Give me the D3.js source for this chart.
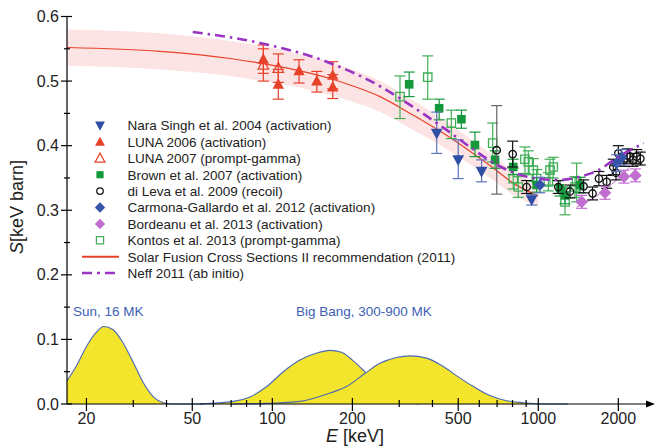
<!DOCTYPE html>
<html>
<head>
<meta charset="utf-8">
<script src="https://cdn.jsdelivr.net/npm/d3@7"></script>
<style>
body { margin: 0; background: #fff; }
svg { display: block; font-family: "Liberation Sans", Arial, Helvetica, sans-serif; }
</style>
</head>
<body>
<script>
var width = 655;
var height = 448;

// axis ticks
var yTicks = [0, 0.1, 0.2, 0.3, 0.4, 0.5, 0.6];
var yMinor = [0.05, 0.15, 0.25, 0.35, 0.45, 0.55];
var xTicks = [20, 50, 100, 200, 500, 1000, 2000];
var xMinor = [30, 40, 60, 70, 80, 90, 300, 400, 600, 700, 800, 900];

// measurements: [E keV, S, S low, S high]
var naraSingh = [[415, 0.419, 0.388, 0.452], [500, 0.378, 0.349, 0.409], [612, 0.360, 0.344, 0.378], [944, 0.316, 0.308, 0.324]];
var luna2006 = [[92.5, 0.534, 0.512, 0.556], [105.3, 0.495, 0.472, 0.518], [126, 0.516, 0.497, 0.533],
                [147, 0.500, 0.483, 0.515], [168.7, 0.509, 0.488, 0.530], [168.7, 0.491, 0.473, 0.510]];
var luna2007 = [[92.5, 0.525, 0.500, 0.550], [105.3, 0.520, 0.498, 0.542]];
var brown2007 = [[327, 0.495, 0.476, 0.514], [424, 0.458, 0.440, 0.472], [514, 0.441, 0.427, 0.455],
                 [578, 0.401, 0.383, 0.421], [688, 0.378, 0.365, 0.392], [805, 0.367, 0.355, 0.379],
                 [986, 0.339, 0.328, 0.350], [1207, 0.334, 0.322, 0.346], [1260, 0.323, 0.310, 0.336],
                 [1435, 0.339, 0.327, 0.351]];
var diLeva = [[801, 0.387, 0.367, 0.407], [904, 0.336, 0.326, 0.346], [1189, 0.336, 0.326, 0.346],
              [1316, 0.329, 0.319, 0.339], [1480, 0.337, 0.327, 0.347], [1600, 0.326, 0.316, 0.336],
              [1690, 0.349, 0.338, 0.360], [1808, 0.344, 0.334, 0.354], [1914, 0.367, 0.355, 0.379],
              [1960, 0.358, 0.347, 0.369], [2000, 0.388, 0.376, 0.400], [2100, 0.378, 0.368, 0.388],
              [2160, 0.385, 0.375, 0.395], [2212, 0.383, 0.372, 0.394], [2270, 0.378, 0.368, 0.388],
              [2344, 0.383, 0.372, 0.394], [2420, 0.380, 0.370, 0.390]];
var diLevaWide = [[698, 0.393, 0.325, 0.462]];
var carmona2012 = [[1014, 0.339, 0.327, 0.351], [1972, 0.373, 0.360, 0.386], [2060, 0.382, 0.370, 0.394]];
var bordeanu2013 = [[1456, 0.313, 0.303, 0.323], [1782, 0.327, 0.317, 0.337], [2100, 0.352, 0.342, 0.362], [2318, 0.354, 0.344, 0.364]];
var kontos2013 = [[302, 0.476, 0.442, 0.508], [384, 0.506, 0.472, 0.539], [471, 0.435, 0.411, 0.455],
                  [674, 0.404, 0.375, 0.435], [891, 0.379, 0.357, 0.398], [917, 0.375, 0.355, 0.392],
                  [958, 0.362, 0.345, 0.380], [805, 0.349, 0.333, 0.365], [841, 0.336, 0.320, 0.352],
                  [986, 0.349, 0.335, 0.363], [1107, 0.362, 0.339, 0.379], [1138, 0.367, 0.350, 0.382],
                  [1091, 0.344, 0.330, 0.358], [1260, 0.313, 0.293, 0.334], [1394, 0.344, 0.313, 0.373],
                  [1375, 0.336, 0.320, 0.352]];

// Solar Fusion II recommendation and its band
var sfEnergy = [16.9, 37.8, 69.3, 92.3, 123.5, 164.8, 196, 254, 339, 452, 555, 670, 805, 1000];
var sfS      = [0.552, 0.546, 0.535, 0.527, 0.517, 0.504, 0.494, 0.476, 0.447, 0.416, 0.391, 0.367, 0.342, 0.322];
var sfUpper  = [0.580, 0.574, 0.562, 0.554, 0.543, 0.530, 0.519, 0.500, 0.470, 0.437, 0.411, 0.386, 0.360, 0.339];
var sfLower  = [0.524, 0.518, 0.508, 0.500, 0.491, 0.478, 0.469, 0.452, 0.424, 0.395, 0.371, 0.348, 0.324, 0.305];

// Neff 2011 ab initio
var neffEnergy = [50.2, 89.9, 160, 254, 338, 453, 553, 674, 800, 986, 1200, 1434, 1700, 1908, 2490];
var neffS      = [0.576, 0.559, 0.530, 0.492, 0.460, 0.424, 0.398, 0.374, 0.359, 0.349, 0.347, 0.352, 0.363, 0.377, 0.404];

// thin fit through the Bordeanu points
var bordFitEnergy = [1394, 1600, 1808, 2150, 2475];
var bordFitS      = [0.305, 0.318, 0.334, 0.362, 0.393];

// Gamow peaks (arbitrary units on the S axis)
var sunEnergy = [16.9, 18.4, 20.0, 21.9, 23.2, 25.2, 27.5, 30.1, 32.8, 35.7, 38.9, 42.4, 55];
var sunPeak   = [0.036, 0.060, 0.089, 0.112, 0.120, 0.115, 0.094, 0.063, 0.032, 0.011, 0.002, 0, 0];
var bb1Energy = [53.5, 71.4, 82.4, 95.3, 110, 127, 147, 165, 182, 200, 224, 240, 261, 293, 329, 358];
var bb1Peak   = [0, 0.004, 0.011, 0.027, 0.050, 0.068, 0.079, 0.083, 0.080, 0.068, 0.049, 0.037, 0.023, 0.009, 0.002, 0];
var bb2Energy = [70, 95.3, 127, 165, 190, 224, 254, 293, 329, 380, 439, 500, 570, 657, 760, 877, 1076, 1293];
var bb2Peak   = [0, 0.001, 0.004, 0.017, 0.027, 0.048, 0.063, 0.072, 0.0745, 0.071, 0.058, 0.042, 0.027, 0.013, 0.005, 0.002, 0, 0];

var svg = d3.select("body").append("svg")
    .attr("width", width)
    .attr("height", height);

var x = d3.scaleLog().domain([16.9, 2700]).range([67, 653]);
var y = d3.scaleLinear().domain([0, 0.6]).range([404, 16.5]);

function zip(xs, ys) { return xs.map(function(e, i) { return [e, ys[i]]; }); }

var line = d3.line()
    .x(function(d) { return x(d[0]); })
    .y(function(d) { return y(d[1]); })
    .curve(d3.curveMonotoneX);

// band
var band = d3.area()
    .x(function(d) { return x(d[0]); })
    .y0(function(d) { return y(d[1]); })
    .y1(function(d) { return y(d[2]); })
    .curve(d3.curveMonotoneX);
svg.append("path")
    .datum(sfEnergy.map(function(e, i) { return [e, sfLower[i], sfUpper[i]]; }))
    .attr("d", band)
    .attr("fill", "#fde4e4");

// gamow peaks
var peak = d3.area()
    .x(function(d) { return x(d[0]); })
    .y0(y(0))
    .y1(function(d) { return y(d[1]); })
    .curve(d3.curveMonotoneX);
[[sunEnergy, sunPeak], [bb1Energy, bb1Peak], [bb2Energy, bb2Peak]].forEach(function(p) {
  var pts = zip(p[0], p[1]);
  svg.append("path").datum(pts).attr("d", peak).attr("fill", "#f3e42c");
  svg.append("path").datum(pts).attr("d", line)
      .attr("fill", "none").attr("stroke", "#4a68b5").attr("stroke-width", 1.1);
});

// marker shapes
function shape(type, s) {
  if (type == "up") return "M0," + (-s) + "L" + (s * 0.95) + "," + (s * 0.75) + "L" + (-s * 0.95) + "," + (s * 0.75) + "Z";
  if (type == "down") return "M0," + s + "L" + (s * 0.95) + "," + (-s * 0.75) + "L" + (-s * 0.95) + "," + (-s * 0.75) + "Z";
  if (type == "square") return "M" + (-s) + "," + (-s) + "h" + (2 * s) + "v" + (2 * s) + "h" + (-2 * s) + "Z";
  if (type == "diamond") return "M0," + (-s) + "L" + s + ",0L0," + s + "L" + (-s) + ",0Z";
  return "M" + (-s) + ",0a" + s + "," + s + " 0 1,0 " + (2 * s) + ",0a" + s + "," + s + " 0 1,0 " + (-2 * s) + ",0";
}

var RED = "#e8412a", BLUE = "#2f4fa6", GREEN = "#14983c", LGREEN = "#3fae55", PURPLE = "#c06ed0";

var series = {
  nara:   { label: "Nara Singh et al. 2004 (activation)", data: naraSingh, type: "down", s: 6.2, fill: BLUE, stroke: "none", bar: "#5a74bb" },
  luna6:  { label: "LUNA 2006 (activation)", data: luna2006, type: "up", s: 6, fill: RED, stroke: "none", bar: RED },
  luna7:  { label: "LUNA 2007 (prompt-gamma)", data: luna2007, type: "up", s: 5.5, fill: "none", stroke: RED, bar: RED },
  brown:  { label: "Brown et al. 2007 (activation)", data: brown2007, type: "square", s: 4.3, fill: GREEN, stroke: "none", bar: GREEN },
  dileva: { label: "di Leva et al. 2009 (recoil)", data: diLeva, type: "circle", s: 3.7, fill: "none", stroke: "#111", bar: "#111" },
  carm:   { label: "Carmona-Gallardo et al. 2012 (activation)", data: carmona2012, type: "diamond", s: 5.8, fill: "#3555aa", stroke: "none", bar: "#5a74bb" },
  bord:   { label: "Bordeanu et al. 2013 (activation)", data: bordeanu2013, type: "diamond", s: 6.3, fill: PURPLE, stroke: "none", bar: PURPLE },
  kontos: { label: "Kontos et al. 2013 (prompt-gamma)", data: kontos2013, type: "square", s: 4.2, fill: "none", stroke: LGREEN, bar: LGREEN }
};

// curves
svg.append("path").datum(zip(sfEnergy, sfS)).attr("d", line)
    .attr("fill", "none").attr("stroke", RED).attr("stroke-width", 1.2);
svg.append("path").datum(zip(bordFitEnergy, bordFitS)).attr("d", line)
    .attr("fill", "none").attr("stroke", PURPLE).attr("stroke-width", 1);

function drawSeries(cfg, data, barColor) {
  var g = svg.append("g");
  var pts = g.selectAll("g").data(data).enter().append("g");
  pts.append("line")
      .attr("x1", function(d) { return x(d[0]); }).attr("x2", function(d) { return x(d[0]); })
      .attr("y1", function(d) { return y(d[2]); }).attr("y2", function(d) { return y(d[3]); })
      .attr("stroke", barColor).attr("stroke-width", 1.2);
  [2, 3].forEach(function(k) {
    pts.append("line")
        .attr("x1", function(d) { return x(d[0]) - 5.5; }).attr("x2", function(d) { return x(d[0]) + 5.5; })
        .attr("y1", function(d) { return y(d[k]); }).attr("y2", function(d) { return y(d[k]); })
        .attr("stroke", barColor).attr("stroke-width", 1.2);
  });
  pts.append("path")
      .attr("transform", function(d) { return "translate(" + x(d[0]) + "," + y(d[1]) + ")"; })
      .attr("d", shape(cfg.type, cfg.s))
      .attr("fill", cfg.fill)
      .attr("stroke", cfg.stroke)
      .attr("stroke-width", 1.3);
}

drawSeries(series.kontos, series.kontos.data, series.kontos.bar);
drawSeries(series.brown, series.brown.data, series.brown.bar);
drawSeries(series.nara, series.nara.data, series.nara.bar);
drawSeries(series.luna7, series.luna7.data, series.luna7.bar);
drawSeries(series.luna6, series.luna6.data, series.luna6.bar);
drawSeries(series.dileva, diLevaWide, "#666");
drawSeries(series.dileva, series.dileva.data, series.dileva.bar);
drawSeries(series.carm, series.carm.data, series.carm.bar);
drawSeries(series.bord, series.bord.data, series.bord.bar);

svg.append("path").datum(zip(neffEnergy, neffS)).attr("d", line)
    .attr("fill", "none").attr("stroke", "#9a34c2").attr("stroke-width", 2.6)
    .attr("stroke-dasharray", "10,5,2.5,5");

// axes
var axes = svg.append("g").attr("stroke", "#000").attr("stroke-width", 1.2);
axes.append("line").attr("x1", 67).attr("x2", 67).attr("y1", y(0.6)).attr("y2", y(0));
axes.append("line").attr("x1", 67).attr("x2", 650).attr("y1", y(0)).attr("y2", y(0));
svg.append("path").attr("d", "M655," + y(0) + "L646," + (y(0) - 3.5) + "L646," + (y(0) + 3.5) + "Z").attr("fill", "#000");

axes.selectAll(".ym").data(yTicks).enter().append("line")
    .attr("x1", 61).attr("x2", 72).attr("y1", y).attr("y2", y);
axes.selectAll(".yn").data(yMinor).enter().append("line")
    .attr("x1", 64).attr("x2", 70).attr("y1", y).attr("y2", y);
axes.selectAll(".xm").data(xTicks).enter().append("line")
    .attr("x1", x).attr("x2", x).attr("y1", y(0) - 6).attr("y2", y(0) + 7);
axes.selectAll(".xn").data(xMinor).enter().append("line")
    .attr("x1", x).attr("x2", x).attr("y1", y(0) - 4).attr("y2", y(0) + 3);

svg.selectAll(".ylab").data(yTicks).enter().append("text")
    .attr("x", 59).attr("y", function(d) { return y(d) + 5.5; })
    .attr("text-anchor", "end").attr("font-size", 16).attr("fill", "#222")
    .text(d3.format(".1f"));
svg.selectAll(".xlab").data(xTicks).enter().append("text")
    .attr("x", x).attr("y", 424)
    .attr("text-anchor", "middle").attr("font-size", 16).attr("fill", "#222")
    .text(function(d) { return d; });

var xt = svg.append("text").attr("x", 355).attr("y", 442).attr("text-anchor", "middle")
    .attr("font-size", 18).attr("fill", "#222");
xt.append("tspan").attr("font-style", "italic").text("E");
xt.append("tspan").text(" [keV]");

var yt = svg.append("text").attr("transform", "translate(23,207) rotate(-90)").attr("text-anchor", "middle")
    .attr("font-size", 18).attr("fill", "#222");
yt.append("tspan").attr("font-style", "italic").text("S");
yt.append("tspan").text("[keV barn]");

// gamow annotations
svg.append("text").attr("x", 73).attr("y", 316).attr("font-size", 13.5).attr("fill", "#3d5fb5").text("Sun, 16 MK");
svg.append("text").attr("x", 296).attr("y", 316).attr("font-size", 13.5).attr("fill", "#3d5fb5").text("Big Bang, 300-900 MK");

// legend
var legendOrder = ["nara", "luna6", "luna7", "brown", "dileva", "carm", "bord", "kontos"];
var ly0 = 125.5, ldy = 16.4;
var legend = svg.append("g");
legendOrder.forEach(function(key, i) {
  var cfg = series[key];
  var ly = ly0 + i * ldy;
  legend.append("path")
      .attr("transform", "translate(100," + ly + ")")
      .attr("d", shape(cfg.type, cfg.type == "square" ? 3.6 : cfg.type == "circle" ? 3.3 : 5.2))
      .attr("fill", cfg.fill).attr("stroke", cfg.stroke).attr("stroke-width", 1.2);
  legend.append("text").attr("x", 127.5).attr("y", ly + 4.8).attr("font-size", 13.5).attr("fill", "#222").text(cfg.label);
});
var lyS = ly0 + 8 * ldy, lyN = ly0 + 9 * ldy;
legend.append("line").attr("x1", 82).attr("x2", 119).attr("y1", lyS).attr("y2", lyS).attr("stroke", RED).attr("stroke-width", 2);
legend.append("text").attr("x", 127.5).attr("y", lyS + 4.8).attr("font-size", 13.5).attr("fill", "#222").text("Solar Fusion Cross Sections II recommendation (2011)");
legend.append("line").attr("x1", 82).attr("x2", 119).attr("y1", lyN).attr("y2", lyN).attr("stroke", "#9a34c2").attr("stroke-width", 2.5)
    .attr("stroke-dasharray", "10,5,3,5");
legend.append("text").attr("x", 127.5).attr("y", lyN + 4.8).attr("font-size", 13.5).attr("fill", "#222").text("Neff 2011 (ab initio)");
</script>
</body>
</html>
